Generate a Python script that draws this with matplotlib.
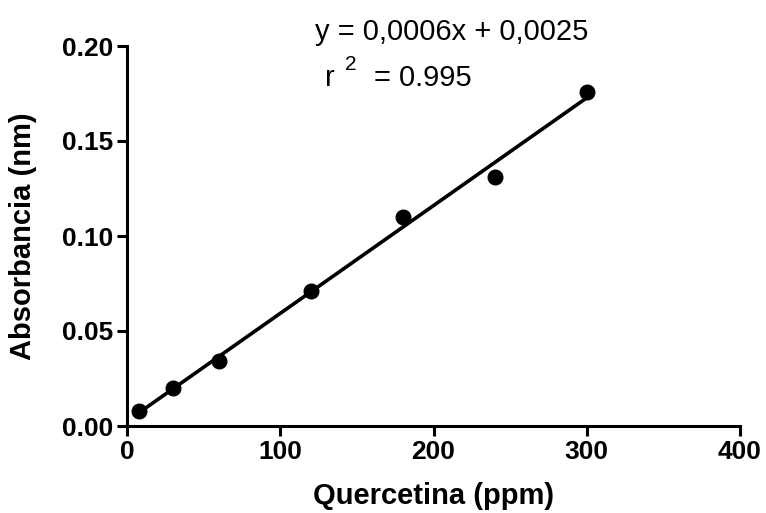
import numpy as np
import matplotlib
matplotlib.use("Agg")
import matplotlib.pyplot as plt

plt.rcParams['font.family'] = ['Liberation Sans', 'DejaVu Sans']

# calibration points: quercetin concentration vs absorbance
conc = [8, 30, 60, 120, 180, 240, 300]
absorb = [0.008, 0.020, 0.034, 0.071, 0.110, 0.131, 0.176]

W, H = 766, 513
fig = plt.figure(figsize=(W / 100, H / 100), dpi=100)
ax = fig.add_axes([127 / W, 1 - 426 / H, (740 - 127) / W, (426 - 46) / H])

# least squares line over the measured range
slope, icpt = np.polyfit(conc, absorb, 1)
xs = np.array([min(conc), max(conc)])
ax.plot(xs, slope * xs + icpt, color='black', lw=2.6, solid_capstyle='butt', zorder=2)
ax.plot(conc, absorb, 'o', color='black', ms=10.5, zorder=3, clip_on=False)

ax.set_xlim(0, 400)
ax.set_ylim(0, 0.20)
ax.set_xticks([0, 100, 200, 300, 400])
ax.set_yticks([0.00, 0.05, 0.10, 0.15, 0.20])
ax.set_yticklabels(['0.00', '0.05', '0.10', '0.15', '0.20'])

for s in ['top', 'right']:
    ax.spines[s].set_visible(False)
for s in ['left', 'bottom']:
    ax.spines[s].set_linewidth(2.2)
ax.tick_params(width=2.2, length=7, labelsize=19, pad=3)
for lab in ax.get_xticklabels() + ax.get_yticklabels():
    lab.set_fontweight('bold')

ax.set_xlabel('Quercetina (ppm)', fontsize=21, fontweight='bold', labelpad=13)
ax.set_ylabel('Absorbancia (nm)', fontsize=21, fontweight='bold', labelpad=18)

# regression annotation
fig.text(315 / W, 1 - 40 / H, 'y = 0,0006x + 0,0025', fontsize=21, va='baseline', ha='left')
fig.text(325 / W, 1 - 86 / H, 'r', fontsize=21, va='baseline', ha='left')
fig.text(345 / W, 1 - 70 / H, '2', fontsize=15, va='baseline', ha='left')
fig.text(374 / W, 1 - 86 / H, '= 0.995', fontsize=21, va='baseline', ha='left')

fig.savefig('out.png', dpi=100)
